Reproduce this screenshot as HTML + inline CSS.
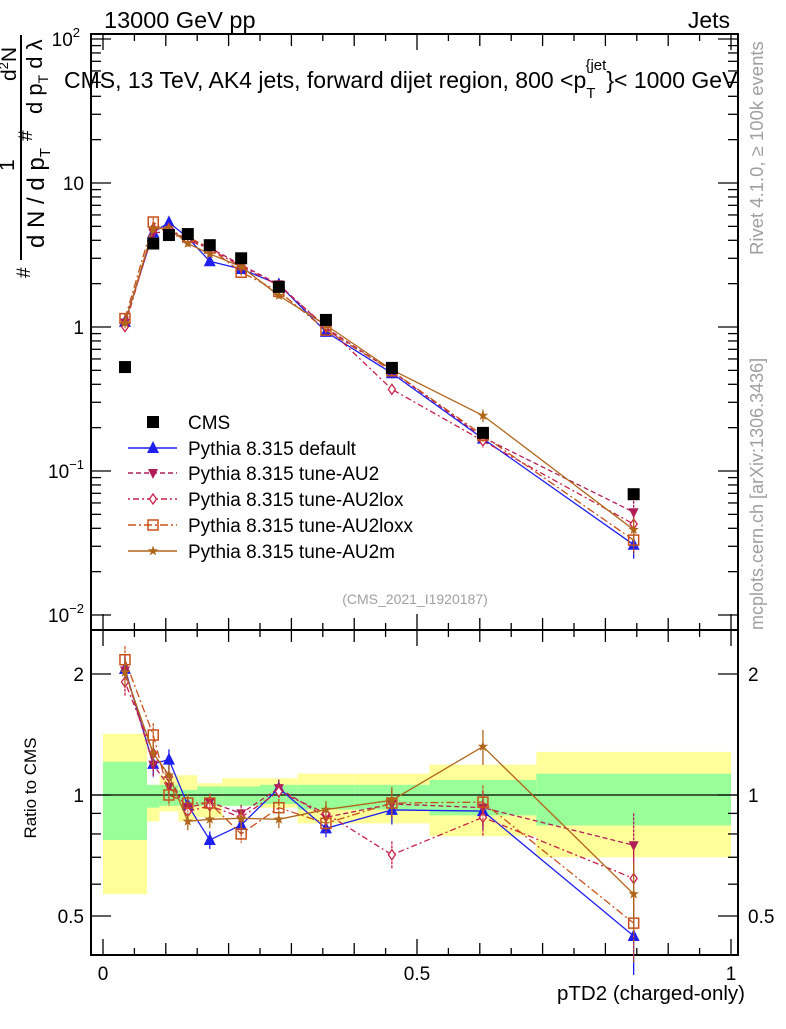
<!DOCTYPE html>
<html><head><meta charset="utf-8"><style>
body{margin:0;background:#fff;}
svg{font-family:"Liberation Sans",sans-serif;}
</style></head><body>
<svg id="chart" width="786" height="1024" xmlns="http://www.w3.org/2000/svg">
<g id="bands"></g>
<g id="axes"></g>
<g id="series"></g>
<g id="legend"></g>
<text x="104" y="28" font-size="23.5">13000 GeV pp</text>
<text x="730" y="28" font-size="23" text-anchor="end">Jets</text>
<text x="64" y="88" font-size="23">CMS, 13 TeV, AK4 jets, forward dijet region, 800 &lt;p<tspan font-size="15" dy="10">T</tspan><tspan font-size="15" dy="-28" dx="-10">{jet</tspan><tspan dy="18">}&lt; 1000 GeV</tspan></text>
<text x="415" y="604" font-size="14" fill="#a0a0a0" text-anchor="middle">(CMS_2021_I1920187)</text>
<text transform="translate(763,255) rotate(-90)" font-size="18.5" fill="#a0a0a0">Rivet 4.1.0, ≥ 100k events</text>
<text transform="translate(763,630) rotate(-90)" font-size="18" fill="#a0a0a0">mcplots.cern.ch [arXiv:1306.3436]</text>
<g>
<line x1="21" y1="35" x2="21" y2="260" stroke="#000" stroke-width="2"/>
<text transform="translate(16,81) rotate(-90)" font-size="21">d<tspan font-size="13" dy="-8">2</tspan><tspan dy="8">N</tspan></text>
<text transform="translate(42,114) rotate(-90)" font-size="22">d p<tspan font-size="14" dy="6">T</tspan><tspan dy="-6"> d λ</tspan></text>
<text transform="translate(32,141) rotate(-90)" font-size="19">#</text>
<text transform="translate(14,171) rotate(-90)" font-size="21">1</text>
<text transform="translate(44,248) rotate(-90)" font-size="24">d N / d p<tspan font-size="15" dy="6">T</tspan></text>
<text transform="translate(30,278) rotate(-90)" font-size="19">#</text>
</g>
<text transform="translate(36,788) rotate(-90)" font-size="17" text-anchor="middle">Ratio to CMS</text>
<text x="745" y="1000" font-size="20.5" text-anchor="end">pTD2 (charged-only)</text>
</svg>
<script>
const binEdges=[0,0.07,0.09,0.12,0.15,0.19,0.25,0.31,0.40,0.52,0.69,1.0];
const xCenters=[0.035,0.08,0.105,0.135,0.17,0.22,0.28,0.355,0.46,0.605,0.845];
const cmsValues=[0.527,3.8,4.35,4.42,3.7,3.0,1.9,1.12,0.52,0.184,0.069];
const yellowUp=[1.42,1.06,1.12,1.12,1.07,1.10,1.10,1.13,1.13,1.19,1.28];
const yellowDn=[0.567,0.86,0.91,0.86,0.88,0.94,0.93,0.85,0.85,0.79,0.70];
const greenUp=[1.21,1.06,1.06,1.03,1.05,1.05,1.06,1.06,1.06,1.09,1.13];
const greenDn=[0.773,0.93,0.94,0.94,0.94,0.94,0.95,0.92,0.92,0.89,0.84];
const ratioDefault=[2.06,1.195,1.225,0.944,0.773,0.842,1.04,0.826,0.918,0.912,0.446];
const ratioAU2=[2.04,1.19,1.05,0.93,0.96,0.90,1.04,0.88,0.95,0.93,0.75];
const ratioAU2lox=[1.91,1.27,1.11,0.91,0.94,0.88,1.02,0.90,0.71,0.88,0.62];
const ratioAU2loxx=[2.17,1.41,1.0,0.955,0.955,0.80,0.93,0.85,0.955,0.96,0.48];
const ratioAU2m=[2.02,1.27,1.12,0.86,0.87,0.875,0.87,0.92,0.97,1.32,0.567];
const relErr=[0.08,0.07,0.06,0.05,0.05,0.05,0.05,0.05,0.08,0.1,0.2];

const NS="http://www.w3.org/2000/svg";
const X0=91,X1=738,MT=34,MB=630,RT=630,RB=955;
function xs(v){return 103+v*628;}
function ym(v){return 327-144*Math.log10(v);}
function yr(v){return 795-402*Math.log10(v);}
function mk(tag,attrs,parent){const e=document.createElementNS(NS,tag);for(const k in attrs)e.setAttribute(k,attrs[k]);parent.appendChild(e);return e;}
const axes=document.getElementById('axes'),bands=document.getElementById('bands'),ser=document.getElementById('series'),leg=document.getElementById('legend');

for(let i=0;i<xCenters.length;i++){
 const x=xs(binEdges[i]),w=xs(binEdges[i+1])-x;
 const y=mk('rect',{x:x,y:yr(yellowUp[i]),width:w,height:yr(yellowDn[i])-yr(yellowUp[i]),fill:'#ffff99'},bands);
 
 
 const g=mk('rect',{x:x,y:yr(greenUp[i]),width:w,height:yr(greenDn[i])-yr(greenUp[i]),fill:'#99ff99'},bands);
 
 
}
mk('line',{x1:X0,x2:X1,y1:yr(1),y2:yr(1),stroke:'#000','stroke-width':1.3},axes);

mk('rect',{x:X0,y:MT,width:X1-X0,height:MB-MT,fill:'none',stroke:'#000','stroke-width':2},axes);
mk('rect',{x:X0,y:RT,width:X1-X0,height:RB-RT,fill:'none',stroke:'#000','stroke-width':2},axes);
for(let k=0;k<=20;k++){const v=k*0.05,x=xs(v),L=(k%10==0)?16:(k%2==0?12:7);
 if(x>X1)continue;
 [[MT,1],[MB,-1],[RT,1],[RB,-1]].forEach(([y,d])=>mk('line',{x1:x,x2:x,y1:y,y2:y+d*L,stroke:'#000','stroke-width':1.3},axes));}
[0,0.5,1].forEach((v,i)=>{const t=mk('text',{x:xs(v),y:980,'font-size':19,'text-anchor':'middle'},axes);t.textContent=['0','0.5','1'][i];});
for(let e=-2;e<=2;e++){for(let m=1;m<10;m++){const v=m*Math.pow(10,e);if(v>100)break;const y=ym(v);if(y<MT||y>MB)continue;const L=m==1?20:10;
 mk('line',{x1:X0,x2:X0+L,y1:y,y2:y,stroke:'#000','stroke-width':1.3},axes);mk('line',{x1:X1,x2:X1-L,y1:y,y2:y,stroke:'#000','stroke-width':1.3},axes);}}
[[100,'10','2'],[10,'10',''],[1,'1',''],[0.1,'10','−1'],[0.01,'10','−2']].forEach(([v,b,s])=>{const t=mk('text',{x:84,y:ym(v)+7,'font-size':19,'text-anchor':'end'},axes);t.textContent=b;if(s){const p=mk('tspan',{'font-size':13,dy:-9},t);p.textContent=s;t.setAttribute('x',s.length>1?84:80);}});
[0.5,0.6,0.7,0.8,0.9,1,2].forEach(v=>{const y=yr(v);const L=(v==0.5||v==1||v==2)?20:10;
 mk('line',{x1:X0,x2:X0+L,y1:y,y2:y,stroke:'#000','stroke-width':1.3},axes);mk('line',{x1:X1,x2:X1-L,y1:y,y2:y,stroke:'#000','stroke-width':1.3},axes);});
[[2,'2'],[1,'1'],[0.5,'0.5']].forEach(([v,s])=>{const a=mk('text',{x:84,y:yr(v)+7,'font-size':19,'text-anchor':'end'},axes);a.textContent=s;const b=mk('text',{x:748,y:yr(v)+7,'font-size':19},axes);b.textContent=s;});

const seriesDefs=[
 {name:'Pythia 8.315 default',r:ratioDefault,c:'#1f1fef',dash:'',m:'tri',id:'default'},
 {name:'Pythia 8.315 tune-AU2',r:ratioAU2,c:'#b01e5a',dash:'5,3',m:'tridn',id:'au2'},
 {name:'Pythia 8.315 tune-AU2lox',r:ratioAU2lox,c:'#c8204a',dash:'2,3,6,3',m:'dia',id:'au2lox'},
 {name:'Pythia 8.315 tune-AU2loxx',r:ratioAU2loxx,c:'#c8501a',dash:'8,3,2,3',m:'sq',id:'au2loxx'},
 {name:'Pythia 8.315 tune-AU2m',r:ratioAU2m,c:'#b0661a',dash:'',m:'star',id:'au2m'}];
function marker(type,x,y,c,p){
 let e;
 if(type=='tri')e=mk('polygon',{points:`${x},${y-7} ${x-6},${y+5} ${x+6},${y+5}`,fill:c},p);
 else if(type=='tridn')e=mk('polygon',{points:`${x},${y+6} ${x-5},${y-4} ${x+5},${y-4}`,fill:c},p);
 else if(type=='dia')e=mk('polygon',{points:`${x},${y-5} ${x-3.5},${y} ${x},${y+5} ${x+3.5},${y}`,fill:'#fff',stroke:c,'stroke-width':1.3},p);
 else if(type=='sq')e=mk('rect',{x:x-5,y:y-5,width:10,height:10,fill:'none',stroke:c,'stroke-width':1.5},p);
 else if(type=='star'){let pts=[];for(let k=0;k<10;k++){const a=-Math.PI/2+k*Math.PI/5,rr=k%2?2.2:5.5;pts.push((x+rr*Math.cos(a)).toFixed(1)+','+(y+rr*Math.sin(a)).toFixed(1));}e=mk('polygon',{points:pts.join(' '),fill:c},p);}
 else e=mk('rect',{x:x-6,y:y-6,width:12,height:12,fill:'#000'},p);
 return e;
}
seriesDefs.forEach(s=>{
 const g=mk('g',{},ser);
 
 
 const mp=[],rp=[];
 xCenters.forEach((xv,i)=>{const v=cmsValues[i]*s.r[i];mp.push([xs(xv),ym(v)]);rp.push([xs(xv),yr(s.r[i])]);});
 [[mp,ym,i=>cmsValues[i]*s.r[i]],[rp,yr,i=>s.r[i]]].forEach(([pts,yf,vf])=>{
  mk('polyline',{points:pts.map(p=>p.join(',')).join(' '),fill:'none',stroke:s.c,'stroke-width':1.3,'stroke-dasharray':s.dash},g);
  pts.forEach((p,i)=>{const v=vf(i);const e=relErr[i];
   mk('line',{x1:p[0],x2:p[0],y1:yf(v*(1+e)),y2:yf(v*(1-e)),stroke:s.c,'stroke-width':1.3,'stroke-dasharray':s.dash?'3,1':''},g);
   const mm=marker(s.m,p[0],p[1],s.c,g);
   
   
  });
 });
});
xCenters.forEach((xv,i)=>{const m=marker('cms',xs(xv),ym(cmsValues[i]),'#000',ser);
 
 });

const ly=[422,448,473,499,525,551];
const le=mk('g',{},leg);
marker('cms',153,ly[0],'#000',le);
const t0=mk('text',{x:188,y:ly[0]+7,'font-size':19},le);t0.textContent='CMS';


seriesDefs.forEach((s,i)=>{const y=ly[i+1];
 mk('line',{x1:128,x2:177,y1:y,y2:y,stroke:s.c,'stroke-width':1.5,'stroke-dasharray':s.dash},leg);
 marker(s.m,153,y,s.c,leg);
 const t=mk('text',{x:188,y:y+7,'font-size':19},leg);t.textContent=s.name;
 
 });
</script>
</body></html>
